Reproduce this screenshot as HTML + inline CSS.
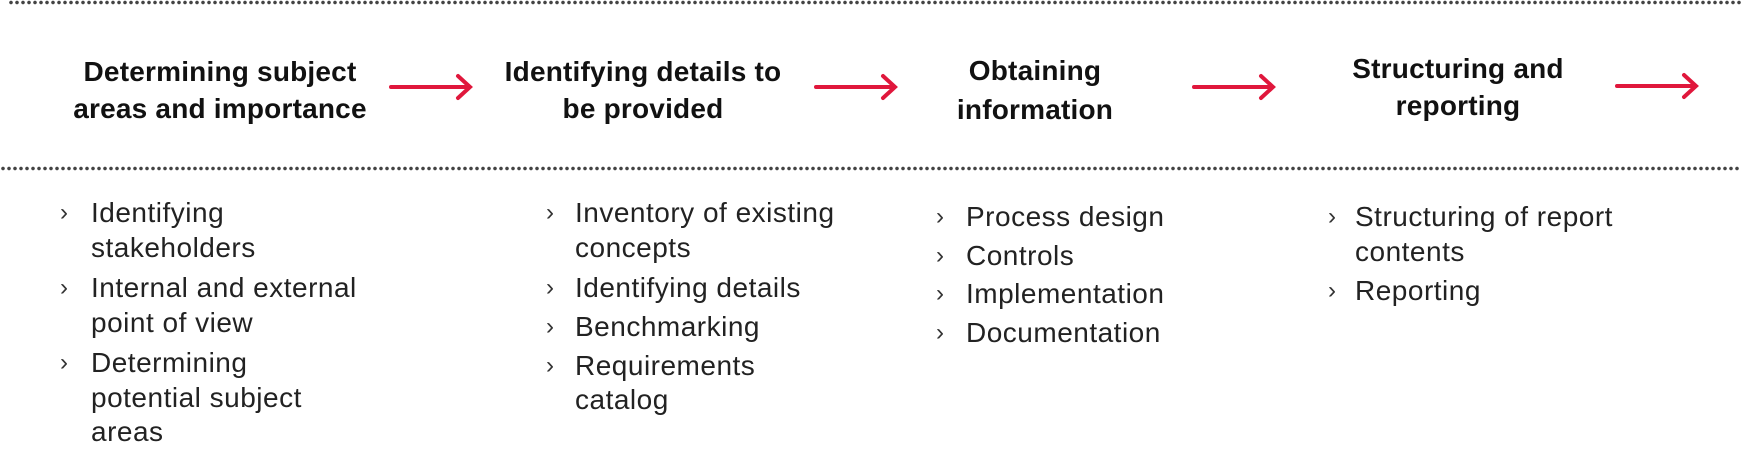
<!DOCTYPE html>
<html><head><meta charset="utf-8"><style>
body{margin:0;width:1741px;height:465px;background:#fff;position:relative;overflow:hidden;font-family:"Liberation Sans",sans-serif;color:#111}
.dots{position:absolute;left:0;width:1741px;height:5px;background-image:radial-gradient(circle,#444 1.6px,transparent 2px);background-size:6px 5px;background-repeat:repeat-x}
.h{position:absolute;font-weight:bold;font-size:28px;line-height:37px;text-align:center;width:400px;letter-spacing:0.2px}
.t{position:absolute;font-size:28px;line-height:36px;color:#222;white-space:nowrap;letter-spacing:0.5px}
.c{position:absolute;font-size:24px;line-height:36px;color:#333}
svg{position:absolute;left:0;top:0}
</style></head><body>
<div class="dots" style="top:0px;left:8px"></div>
<div class="dots" style="top:166px"></div>
<svg width="1741" height="465">
<g stroke="#e0173c" stroke-width="4" fill="none" stroke-linecap="round">
<path d="M391 87H469M458 76L470 87L458 98"/>
<path d="M816 87H894M883 76L895 87L883 98"/>
<path d="M1194 87H1272M1261 76L1273 87L1261 98"/>
<path d="M1617 86H1695M1684 75L1696 86L1684 97"/>
</g></svg>
<div class="h" style="left:20px;top:53px">Determining subject<br>areas and importance</div>
<div class="h" style="left:443px;top:53px">Identifying details to<br>be provided</div>
<div class="h" style="left:835px;top:51px;line-height:39px">Obtaining<br>information</div>
<div class="h" style="left:1258px;top:50px">Structuring and<br>reporting</div>

<div class="c" style="left:60px;top:195px">›</div>
<div class="t" style="left:91px;top:195px">Identifying</div>
<div class="t" style="left:91px;top:230px">stakeholders</div>
<div class="c" style="left:60px;top:270px">›</div>
<div class="t" style="left:91px;top:270px">Internal and external</div>
<div class="t" style="left:91px;top:305px">point of view</div>
<div class="c" style="left:60px;top:345px">›</div>
<div class="t" style="left:91px;top:345px">Determining</div>
<div class="t" style="left:91px;top:380px">potential subject</div>
<div class="t" style="left:91px;top:414px">areas</div>

<div class="c" style="left:546px;top:195px">›</div>
<div class="t" style="left:575px;top:195px">Inventory of existing</div>
<div class="t" style="left:575px;top:230px">concepts</div>
<div class="c" style="left:546px;top:270px">›</div>
<div class="t" style="left:575px;top:270px">Identifying details</div>
<div class="c" style="left:546px;top:309px">›</div>
<div class="t" style="left:575px;top:309px">Benchmarking</div>
<div class="c" style="left:546px;top:348px">›</div>
<div class="t" style="left:575px;top:348px">Requirements</div>
<div class="t" style="left:575px;top:382px">catalog</div>

<div class="c" style="left:936px;top:199px">›</div>
<div class="t" style="left:966px;top:199px">Process design</div>
<div class="c" style="left:936px;top:238px">›</div>
<div class="t" style="left:966px;top:238px">Controls</div>
<div class="c" style="left:936px;top:276px">›</div>
<div class="t" style="left:966px;top:276px">Implementation</div>
<div class="c" style="left:936px;top:315px">›</div>
<div class="t" style="left:966px;top:315px">Documentation</div>

<div class="c" style="left:1328px;top:199px">›</div>
<div class="t" style="left:1355px;top:199px">Structuring of report</div>
<div class="t" style="left:1355px;top:234px">contents</div>
<div class="c" style="left:1328px;top:273px">›</div>
<div class="t" style="left:1355px;top:273px">Reporting</div>
</body></html>
